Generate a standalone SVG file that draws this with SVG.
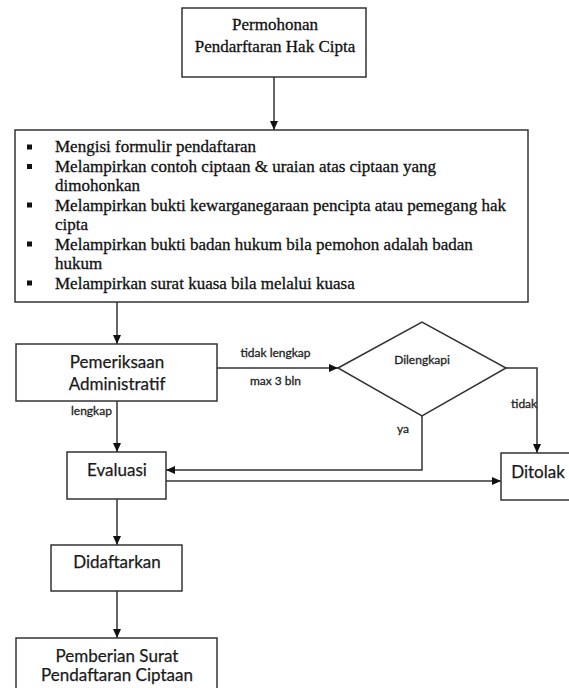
<svg xmlns="http://www.w3.org/2000/svg" width="569" height="688" viewBox="0 0 569 688">
<style>
.box{fill:#fff;stroke:#333;stroke-width:1.5}
.serif{font-family:"Liberation Serif","Times New Roman",serif;font-size:17px;fill:#111;stroke:#111;stroke-width:0.3}
.sans{font-family:Lato,"Liberation Sans",sans-serif;font-size:17px;fill:#1a1a1a;stroke:#1a1a1a;stroke-width:0.25}
.lbl{font-family:Lato,"Liberation Sans",sans-serif;font-size:12px;fill:#222;stroke:#222;stroke-width:0.3}
.c{text-anchor:middle}
.ln{fill:none;stroke:#333;stroke-width:1.5}
.arr{marker-end:url(#ah)}
</style>
<defs>
<marker id="ah" viewBox="0 0 9 8" refX="9" refY="4" markerWidth="9" markerHeight="8" orient="auto" markerUnits="userSpaceOnUse">
<path d="M0,0 L9,4 L0,8 z" fill="#111"/>
</marker>
</defs>
<rect width="569" height="688" fill="#fff"/>
<g id="connectors">
<path class="ln arr" d="M274,77 V130"/>
<path class="ln arr" d="M117,287 V344"/>
<path class="ln arr" d="M217,368 H338"/>
<path class="ln arr" d="M117,390 V452"/>
<path class="ln arr" d="M506,368 H537 V453"/>
<path class="ln arr" d="M422,416 V470 H166"/>
<path class="ln arr" d="M166,481 H501"/>
<path class="ln arr" d="M117,499 V545"/>
<path class="ln arr" d="M117,591 V638"/>
</g>
<g id="permohonan">
<rect class="box" x="182" y="8" width="184" height="69"/>
<text class="serif c" x="275" y="30">Permohonan</text>
<text class="serif c" x="275" y="52">Pendarftaran Hak Cipta</text>
</g>
<g id="persyaratan">
<rect class="box" x="15" y="130" width="513" height="172" fill="none"/>
<g fill="#111">
<rect x="27" y="144.5" width="5" height="5"/>
<rect x="27" y="164" width="5" height="5"/>
<rect x="27" y="202.5" width="5" height="5"/>
<rect x="27" y="241.5" width="5" height="5"/>
<rect x="27" y="280.5" width="5" height="5"/>
</g>
<text class="serif" x="55" y="152">Mengisi formulir pendaftaran</text>
<text class="serif" x="55" y="171.5">Melampirkan contoh ciptaan &amp; uraian atas ciptaan yang</text>
<text class="serif" x="55" y="191">dimohonkan</text>
<text class="serif" x="55" y="210.5">Melampirkan bukti kewarganegaraan pencipta atau pemegang hak</text>
<text class="serif" x="55" y="230">cipta</text>
<text class="serif" x="55" y="249.5">Melampirkan bukti badan hukum bila pemohon adalah badan</text>
<text class="serif" x="55" y="269">hukum</text>
<text class="serif" x="55" y="288.5">Melampirkan surat kuasa bila melalui kuasa</text>
</g>
<g id="pemeriksaan">
<rect class="box" x="16" y="344" width="201" height="57" fill="none"/>
<text class="sans c" x="117" y="367.5">Pemeriksaan</text>
<text class="sans c" x="117" y="389.5">Administratif</text>
</g>
<g id="dilengkapi">
<polygon class="box" points="338,368 422,322 506,368 422,416"/>
<text class="lbl c" x="422" y="364">Dilengkapi</text>
</g>
<g id="evaluasi">
<rect class="box" x="67" y="452" width="99" height="47" fill="none"/>
<text class="sans c" x="117" y="476">Evaluasi</text>
</g>
<g id="ditolak">
<rect class="box" x="501" y="453" width="80" height="47"/>
<text class="sans c" x="538" y="478">Ditolak</text>
</g>
<g id="didaftarkan">
<rect class="box" x="51" y="545" width="131" height="46"/>
<text class="sans c" x="117" y="568">Didaftarkan</text>
</g>
<g id="pemberian">
<rect class="box" x="16" y="638" width="201" height="60"/>
<text class="sans c" x="117" y="661.5">Pemberian Surat</text>
<text class="sans c" x="117" y="680.5">Pendaftaran Ciptaan</text>
</g>
<g id="labels">
<text class="lbl c" x="275.5" y="357">tidak lengkap</text>
<text class="lbl c" x="275.5" y="385">max 3 bln</text>
<text class="lbl" x="71" y="415">lengkap</text>
<text class="lbl" x="511" y="408">tidak</text>
<text class="lbl" x="397" y="433">ya</text>
</g>
</svg>
